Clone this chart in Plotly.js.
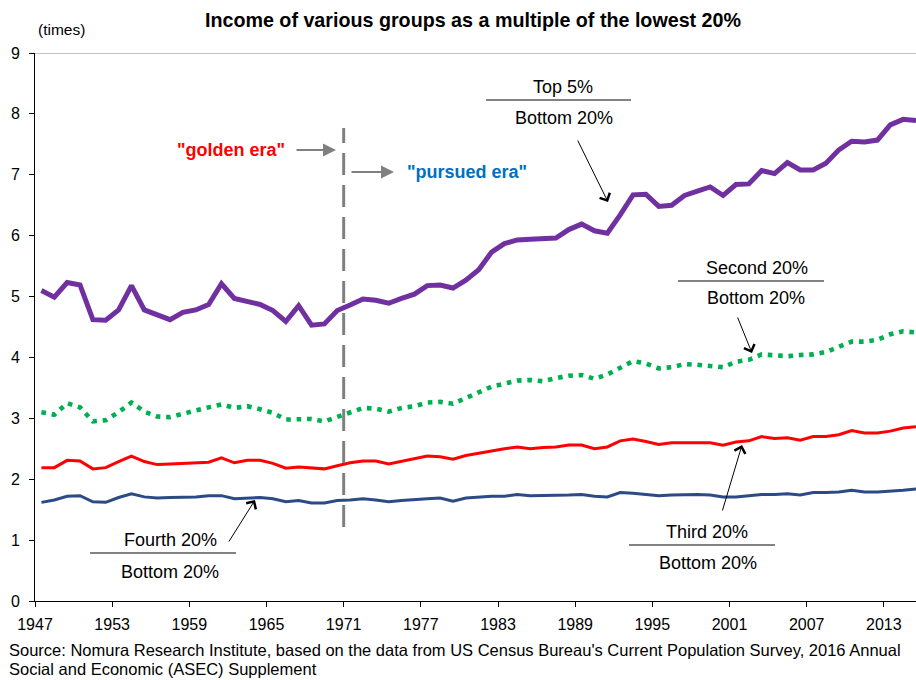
<!DOCTYPE html>
<html>
<head>
<meta charset="utf-8">
<script src="https://cdn.plot.ly/plotly-3.0.1.min.js"></script>
<style>html,body{margin:0;padding:0;background:#fff;}#chart{width:916px;height:680px;}</style>
</head>
<body>
<div id="chart"></div>
<script>
const years = [1947,1948,1949,1950,1951,1952,1953,1954,1955,1956,1957,1958,1959,1960,1961,1962,1963,1964,1965,1966,1967,1968,1969,1970,1971,1972,1973,1974,1975,1976,1977,1978,1979,1980,1981,1982,1983,1984,1985,1986,1987,1988,1989,1990,1991,1992,1993,1994,1995,1996,1997,1998,1999,2000,2001,2002,2003,2004,2005,2006,2007,2008,2009,2010,2011,2012,2013,2014,2015];

const top5 = [5.10,4.99,5.23,5.19,4.62,4.61,4.78,5.18,4.78,4.70,4.62,4.74,4.78,4.87,5.21,4.97,4.91,4.87,4.77,4.59,4.85,4.53,4.55,4.77,4.86,4.96,4.94,4.89,4.97,5.04,5.18,5.19,5.14,5.27,5.44,5.73,5.87,5.93,5.94,5.95,5.96,6.10,6.19,6.08,6.04,6.34,6.67,6.68,6.48,6.50,6.66,6.73,6.80,6.66,6.84,6.85,7.07,7.02,7.20,7.08,7.08,7.19,7.41,7.55,7.54,7.57,7.82,7.91,7.89];

const second20 = [3.10,3.06,3.25,3.18,2.95,2.97,3.10,3.26,3.11,3.03,3.02,3.08,3.13,3.18,3.23,3.17,3.20,3.15,3.09,2.98,2.99,2.99,2.95,3.03,3.11,3.17,3.16,3.11,3.17,3.20,3.26,3.27,3.24,3.34,3.43,3.52,3.57,3.62,3.63,3.61,3.66,3.70,3.71,3.65,3.72,3.84,3.94,3.90,3.82,3.84,3.89,3.88,3.86,3.84,3.93,3.96,4.05,4.03,4.02,4.04,4.05,4.09,4.18,4.26,4.26,4.29,4.38,4.43,4.41];

const third20 = [2.19,2.19,2.31,2.30,2.17,2.19,2.29,2.38,2.29,2.24,2.25,2.26,2.27,2.28,2.35,2.27,2.31,2.31,2.26,2.18,2.20,2.19,2.17,2.22,2.27,2.30,2.30,2.25,2.29,2.33,2.38,2.37,2.33,2.39,2.43,2.46,2.50,2.53,2.50,2.52,2.53,2.56,2.56,2.50,2.53,2.63,2.66,2.62,2.57,2.60,2.60,2.60,2.60,2.56,2.61,2.63,2.70,2.67,2.68,2.64,2.70,2.70,2.73,2.80,2.76,2.76,2.79,2.84,2.86];

const fourth20 = [1.62,1.66,1.72,1.73,1.63,1.62,1.70,1.76,1.71,1.69,1.70,1.70,1.71,1.73,1.73,1.68,1.69,1.70,1.68,1.63,1.65,1.61,1.61,1.65,1.66,1.68,1.66,1.63,1.65,1.67,1.68,1.69,1.64,1.69,1.71,1.72,1.72,1.75,1.73,1.73,1.73,1.74,1.75,1.72,1.71,1.78,1.77,1.75,1.73,1.74,1.75,1.75,1.74,1.71,1.71,1.73,1.75,1.75,1.76,1.74,1.78,1.78,1.79,1.82,1.79,1.79,1.80,1.82,1.84];

const tickYears = [1947,1953,1959,1965,1971,1977,1983,1989,1995,2001,2007,2013];
const tickLabels = ["1947","1953","1959","1965","1971","1977","1983","1989","1995","2001","2007","2013"];
const yTicks = [0,1,2,3,4,5,6,7,8,9];

const FONT = "Liberation Sans, Arial, sans-serif";
const ML = 35, MR = 0, MT = 53, MB = 79, W = 916, H = 680;
const XR = [1946.5, 2015.0], YR = [0, 9];
const pw = W - ML - MR, ph = H - MT - MB;
// pixel -> data helpers for annotation placement
const X = px => XR[0] + (px - ML) / pw * (XR[1] - XR[0]);
const Y = py => YR[0] + (H - MB - py) / ph * (YR[1] - YR[0]);
const PX = px => (px - ML) / pw;
const PY = py => (H - MB - py) / ph;

const tickPos = tickYears.map(y => y - 0.5);

const traces = [
  {x: years, y: fourth20, type: 'scatter', mode: 'lines', line: {color: '#2B4A86', width: 3}, hoverinfo: 'skip'},
  {x: years, y: third20, type: 'scatter', mode: 'lines', line: {color: '#FF0000', width: 3}, hoverinfo: 'skip'},
  {x: years, y: second20, type: 'scatter', mode: 'lines', line: {color: '#00B050', width: 4.6, dash: '4.6px,5.8px'}, hoverinfo: 'skip'},
  {x: years, y: top5, type: 'scatter', mode: 'lines', line: {color: '#7030A0', width: 5}, hoverinfo: 'skip'}
];

const txt = (text, px, py, opts) => Object.assign({
  text: text, x: X(px), y: Y(py), xref: 'x', yref: 'y', showarrow: false,
  xanchor: 'center', yanchor: 'middle', font: {family: FONT, size: 18, color: '#000'}
}, opts || {});
const arrow = (fx, fy, tx, ty, opts) => Object.assign({
  text: '', x: X(tx), y: Y(ty), ax: X(fx), ay: Y(fy), xref: 'x', yref: 'y', axref: 'x', ayref: 'y',
  showarrow: true, arrowhead: 4, arrowsize: 2.2, arrowwidth: 1, arrowcolor: '#000', standoff: 0, startstandoff: 0
}, opts || {});
const hline = (x0, x1, py) => ({type: 'line', xref: 'x', yref: 'y', x0: X(x0), x1: X(x1), y0: Y(py), y1: Y(py), line: {color: '#595959', width: 1.5}});

const annotations = [
  {text: '(times)', xref: 'paper', yref: 'paper', x: PX(36), y: PY(29), xanchor: 'left', yanchor: 'middle', showarrow: false, font: {family: FONT, size: 15.5, color: '#000'}},
  txt('"golden era"', 287, 150, {xanchor: 'right', font: {family: FONT, size: 18, color: '#FF0000', weight: 'bold'}}),
  arrow(295, 150, 336, 150, {arrowhead: 2, arrowsize: 1.3, arrowwidth: 2, arrowcolor: '#808080'}),
  txt('"pursued era"', 405, 172, {xanchor: 'left', font: {family: FONT, size: 18, color: '#0070C0', weight: 'bold'}}),
  arrow(350, 172, 394, 172, {arrowhead: 2, arrowsize: 1.3, arrowwidth: 2, arrowcolor: '#808080'}),
  txt('Top 5%', 563, 87),
  txt('Bottom 20%', 564, 118),
  arrow(577, 139, 608, 202),
  txt('Second 20%', 757, 268),
  txt('Bottom 20%', 756, 298),
  arrow(737, 316, 752, 353),
  txt('Fourth 20%', 170, 540),
  txt('Bottom 20%', 170, 572),
  arrow(228, 543, 255, 500),
  txt('Third 20%', 707, 532),
  txt('Bottom 20%', 708, 563),
  arrow(722, 512, 742, 445),
  {text: "Source: Nomura Research Institute, based on the data from US Census Bureau's Current Population Survey, 2016 Annual", xref: 'paper', yref: 'paper', x: PX(7), y: PY(650), xanchor: 'left', yanchor: 'middle', showarrow: false, font: {family: FONT, size: 16.5, color: '#000'}},
  {text: 'Social and Economic (ASEC) Supplement', xref: 'paper', yref: 'paper', x: PX(7), y: PY(669), xanchor: 'left', yanchor: 'middle', showarrow: false, font: {family: FONT, size: 16.5, color: '#000'}}
];

const shapes = [
  {type: 'line', xref: 'paper', yref: 'y', x0: 0, x1: 1, y0: 9, y1: 9, line: {color: '#868686', width: 1}},
  {type: 'line', xref: 'x', yref: 'y', x0: 1970.5, x1: 1970.5, y0: Y(527), y1: Y(128), line: {color: '#808080', width: 3, dash: '22px,10px'}},
  hline(486, 631, 100),
  hline(678, 824, 281),
  hline(90, 236, 553),
  hline(629, 775, 545)
];

const layout = {
  width: W, height: H,
  margin: {l: ML, r: MR, t: MT, b: MB, pad: 0},
  paper_bgcolor: '#fff', plot_bgcolor: '#fff',
  showlegend: false,
  font: {family: FONT, color: '#000'},
  title: {text: '<b>Income of various groups as a multiple of the lowest 20%</b>', x: 473 / W, xref: 'container', xanchor: 'center', y: 1 - 20 / H, yref: 'container', yanchor: 'middle', font: {family: FONT, size: 19.7, color: '#000'}},
  xaxis: {range: XR, tickmode: 'array', tickvals: tickPos, ticktext: tickLabels, ticks: 'outside', ticklen: 5, tickcolor: '#000', tickwidth: 1,
    showline: true, linecolor: '#000', linewidth: 1, showgrid: false, zeroline: false, tickfont: {family: FONT, size: 16, color: '#000'}, ticklabelstandoff: 4, fixedrange: true},
  xaxis2: {range: XR, overlaying: 'x', anchor: 'y', tickmode: 'array', tickvals: tickPos, ticks: 'inside', ticklen: 5, tickcolor: '#000', tickwidth: 1,
    showticklabels: false, showline: false, showgrid: false, zeroline: false, fixedrange: true},
  yaxis: {range: YR, tickmode: 'array', tickvals: yTicks, ticks: 'outside', ticklen: 5, tickcolor: '#000', tickwidth: 1,
    showline: true, linecolor: '#000', linewidth: 1, showgrid: false, zeroline: false, tickfont: {family: FONT, size: 16, color: '#000'}, ticklabelstandoff: 6, fixedrange: true},
  yaxis2: {range: YR, overlaying: 'y', anchor: 'x', side: 'left', tickmode: 'array', tickvals: yTicks, ticks: 'inside', ticklen: 5, tickcolor: '#000', tickwidth: 1,
    showticklabels: false, showline: false, showgrid: false, zeroline: false, fixedrange: true},
  annotations: annotations,
  shapes: shapes
};

Plotly.newPlot('chart', traces, layout, {displayModeBar: false, staticPlot: true});
</script>
</body>
</html>
